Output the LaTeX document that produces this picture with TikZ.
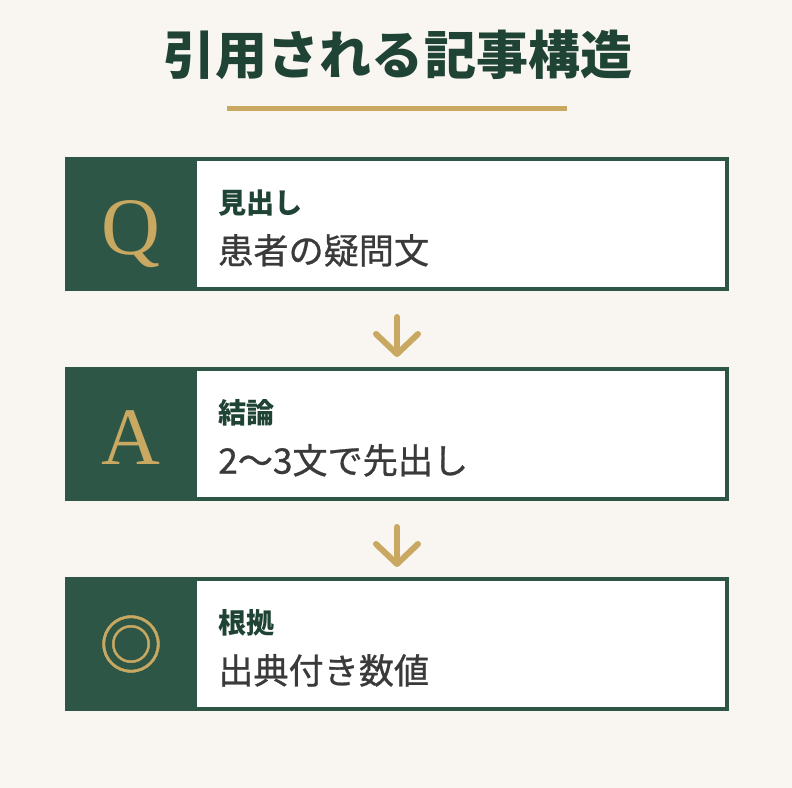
\documentclass[tikz,border=0pt]{standalone}
\usepackage{fontspec}
\setmainfont{Liberation Serif}
\newfontfamily\jpfont{Noto Sans CJK JP}
\newfontfamily\jpmid[FakeBold=0.8]{Noto Sans CJK JP}
\definecolor{qaGreen}{HTML}{2E5646}
\definecolor{qaDeep}{HTML}{1F4334}
\definecolor{qaGold}{HTML}{C9A861}
\definecolor{qaPaper}{HTML}{F9F6F1}
\definecolor{qaInk}{HTML}{3A3A3A}
\usetikzlibrary{positioning,arrows.meta}

\begin{document}
\begin{tikzpicture}[
  stepbox/.style={draw=qaGreen, line width=0.1cm, fill=white, minimum width=16.5cm, minimum height=3.25cm, inner sep=0pt},
  panel/.style={fill=qaGreen, minimum width=3.3cm, minimum height=3.35cm, inner sep=0pt, outer sep=0pt},
  letterglyph/.style={font=\fontsize{58}{58}\selectfont, text=qaGold, inner sep=0pt, anchor=base},
  symglyph/.style={font=\jpmid\fontsize{45}{45}\selectfont, text=qaGold, inner sep=0pt},
  heading/.style={font=\jpfont\bfseries\fontsize{20}{20}\selectfont, text=qaDeep, inner sep=0pt, anchor=west},
  body/.style={font=\jpmid\fontsize{25}{25}\selectfont, text=qaInk, inner sep=0pt, anchor=west},
  flow/.style={qaGold, line width=0.15cm, line cap=round, -{Straight Barb[length=0.5cm, width=1.05cm, round]}, shorten <=0.65cm, shorten >=0.25cm}
]
  % Paper
  \fill[qaPaper] (0,0) rectangle (19.8,19.7);

  % Title and gold rule
  \node[font=\jpfont\bfseries\fontsize{37}{37}\selectfont, text=qaDeep] (title) at (9.95,18.325) {引用される記事構造};
  \draw[qaGold, line width=0.125cm] (5.675,16.99) -- (14.175,16.99);

  % Q: heading
  \node[stepbox] (q) at (9.925,14.1) {};
  \node[panel, anchor=west] (qpanel) at (q.west) {};
  \node[letterglyph] (qletter) at ([yshift=-0.775cm]qpanel.center) {Q};
  \node[heading] (qhead) at ([xshift=0.525cm, yshift=0.525cm]qpanel.east) {見出し};
  \node[body] (qbody) at ([xshift=0.525cm, yshift=-0.66cm]qpanel.east) {患者の疑問文};

  % A: conclusion
  \node[stepbox, below=1.9cm of q] (a) {};
  \node[panel, anchor=west] (apanel) at (a.west) {};
  \node[letterglyph] (aletter) at ([yshift=-0.775cm]apanel.center) {A};
  \node[heading] (ahead) at ([xshift=0.525cm, yshift=0.525cm]apanel.east) {結論};
  \node[body] (abody) at ([xshift=0.525cm, yshift=-0.66cm]apanel.east) {2〜3文で先出し};

  % Evidence
  \node[stepbox, below=1.9cm of a] (e) {};
  \node[panel, anchor=west] (epanel) at (e.west) {};
  \node[symglyph] (esym) at (epanel.center) {◎};
  \node[heading] (ehead) at ([xshift=0.525cm, yshift=0.525cm]epanel.east) {根拠};
  \node[body] (ebody) at ([xshift=0.525cm, yshift=-0.66cm]epanel.east) {出典付き数値};

  % Flow arrows
  \draw[flow] (q) -- (a);
  \draw[flow] (a) -- (e);
\end{tikzpicture}
\end{document}
